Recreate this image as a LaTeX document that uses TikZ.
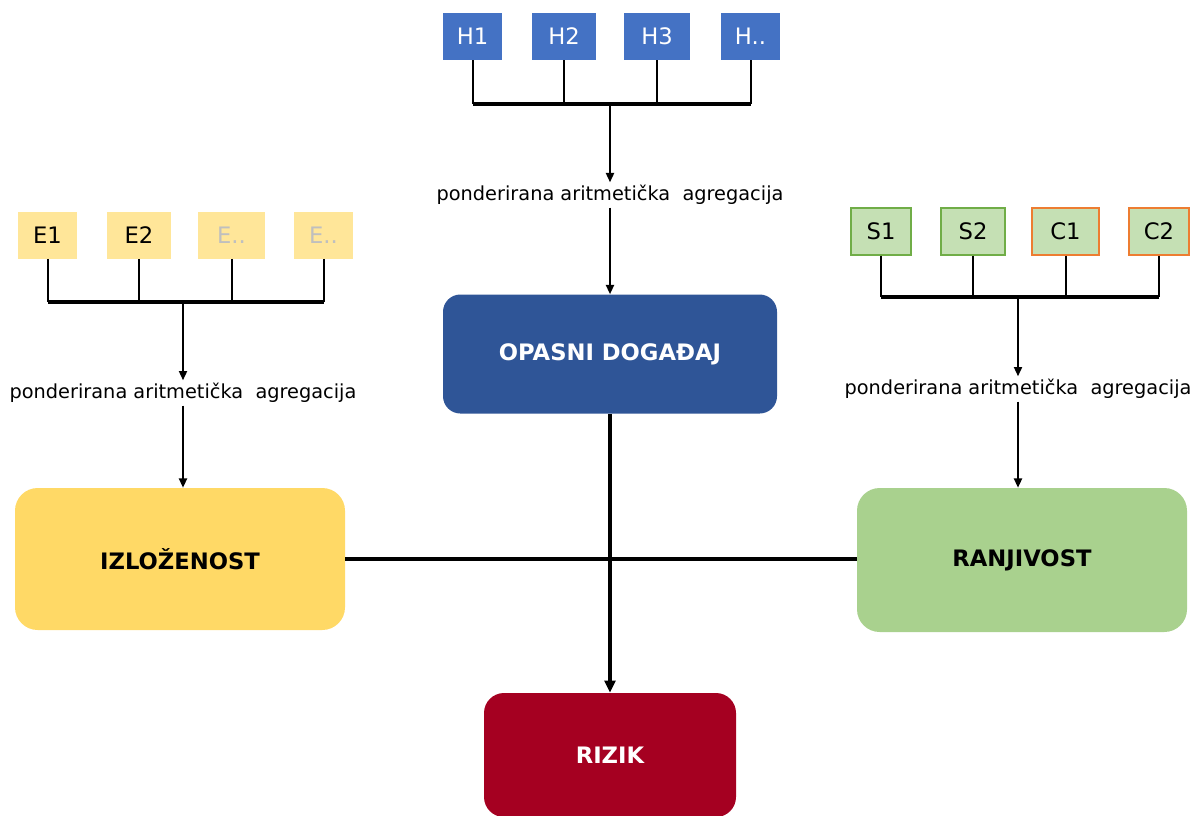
\documentclass[tikz,border=0pt]{standalone}
\usepackage{fontspec}
\setmainfont{DejaVu Sans}
\usetikzlibrary{arrows.meta}
\definecolor{hblue}{HTML}{4472C4}
\definecolor{dblue}{HTML}{2F5597}
\definecolor{eyel}{HTML}{FFE699}
\definecolor{byel}{HTML}{FFD966}
\definecolor{sgreen}{HTML}{C5E0B4}
\definecolor{sgborder}{HTML}{70AD47}
\definecolor{corange}{HTML}{ED7D31}
\definecolor{bgreen}{HTML}{A9D18E}
\definecolor{rred}{HTML}{A50021}
\definecolor{egray}{HTML}{BFBFBF}
\tikzset{
  smallbox/.style={rectangle, inner sep=0pt, minimum height=35.25pt, font=\fontsize{17}{19}\selectfont},
  hbox/.style={smallbox, fill=hblue, text=white},
  ebox/.style={smallbox, fill=eyel, text=black},
  sbox/.style={smallbox, fill=sgreen, draw=sgborder, line width=0.8pt, text=black},
  cbox/.style={smallbox, fill=sgreen, draw=corange, line width=0.8pt, text=black},
  bigbox/.style={rectangle, rounded corners=15pt, inner sep=0pt, font=\bfseries\fontsize{17}{19}\selectfont},
  agg/.style={inner sep=2pt, font=\fontsize{14.5}{17}\selectfont},
  tick/.style={line width=1.5pt},
  bar/.style={line width=2.5pt},
  arr/.style={line width=1.5pt, -{Triangle[length=7pt,width=6pt]}},
  mainline/.style={line width=3pt},
  mainarr/.style={line width=3pt, -{Triangle[length=9pt,width=8pt]}}
}
\begin{document}
\begin{tikzpicture}[x=0.75pt,y=-0.75pt]
\path[use as bounding box] (0,0) rectangle (1195,815);

% H group
\node[hbox, minimum width=44.25pt] (h1) at (472.5,36.5) {H1};
\node[hbox, minimum width=48pt] (h2) at (564,36.5) {H2};
\node[hbox, minimum width=49.5pt] (h3) at (657,36.5) {H3};
\node[hbox, minimum width=44.25pt] (h4) at (750.5,36.5) {H..};
\coordinate (hb) at (610,104);
\foreach \n in {h1,h2,h3,h4} \draw[tick] (\n.south) -- (\n.south |- hb);
\draw[bar] (h1.south |- hb) -- (h4.south |- hb);
\node[agg] (ha) at (610,195) {ponderirana aritmetička\ \ agregacija};
\draw[arr] (hb) -- (ha.north);

% E group
\node[ebox, minimum width=44.25pt] (e1) at (47.5,235) {E1};
\node[ebox, minimum width=48pt] (e2) at (139,235) {E2};
\node[ebox, minimum width=50.25pt, text=egray] (e3) at (231.5,235) {E..};
\node[ebox, minimum width=44.25pt, text=egray] (e4) at (323.5,235) {E..};
\coordinate (eb) at (183,302);
\foreach \n in {e1,e2,e3,e4} \draw[tick] (\n.south) -- (\n.south |- eb);
\draw[bar] (e1.south |- eb) -- (e4.south |- eb);
\node[agg] (ea) at (183,393) {ponderirana aritmetička\ \ agregacija};
\draw[arr] (eb) -- (ea.north);

% S group
\node[sbox, minimum width=45pt] (s1) at (881,231.5) {S1};
\node[sbox, minimum width=48pt] (s2) at (973,231.5) {S2};
\node[cbox, minimum width=50.25pt] (c1) at (1065.5,231.5) {C1};
\node[cbox, minimum width=45pt] (c2) at (1159,231.5) {C2};
\coordinate (sb) at (1018,297);
\foreach \n in {s1,s2,c1,c2} \draw[tick] (\n.south) -- (\n.south |- sb);
\draw[bar] (s1.south |- sb) -- (c2.south |- sb);
\node[agg] (sa) at (1018,389) {ponderirana aritmetička\ \ agregacija};
\draw[arr] (sb) -- (sa.north);

% big boxes
\node[bigbox, fill=dblue, text=white, minimum width=250.5pt, minimum height=89.25pt, rounded corners=13pt] (op) at (610,354) {OPASNI DOGAĐAJ};
\node[bigbox, fill=byel, text=black, minimum width=247.5pt, minimum height=106.5pt, rounded corners=17pt] (iz) at (180,559) {IZLOŽENOST};
\node[bigbox, fill=bgreen, text=black, minimum width=247.5pt, minimum height=108pt, rounded corners=17pt] (ra) at (1022,560) {RANJIVOST};
\node[bigbox, fill=rred, text=white, minimum width=189pt, minimum height=93pt, rounded corners=15pt] (ri) at (610,755) {RIZIK};

\draw[arr] (ha.south) -- (op.north);
\draw[arr] (ea.south) -- (iz.north -| ea.south);
\draw[arr] (sa.south) -- (ra.north -| sa.south);

\draw[mainline] (iz.east) -- (iz.east -| ra.west);
\draw[mainarr] (op.south) -- (ri.north);
\end{tikzpicture}
\end{document}
